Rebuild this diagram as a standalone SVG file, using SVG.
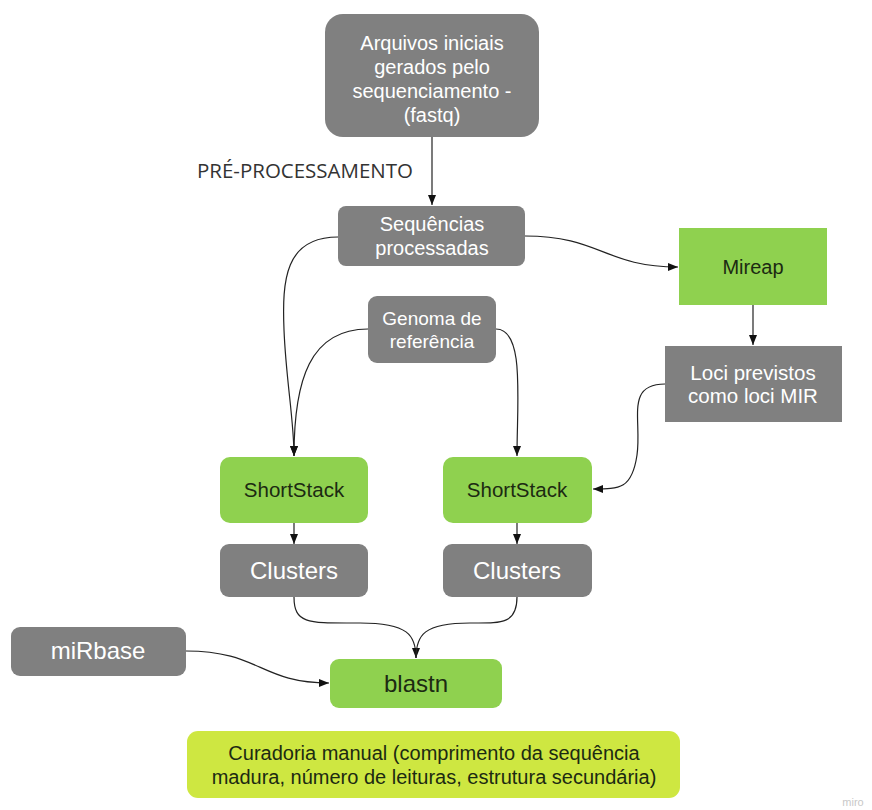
<svg xmlns="http://www.w3.org/2000/svg" width="872" height="810" viewBox="0 0 872 810">
<style>
.g{fill:#808080}
.gr{fill:#8fd14f}
.y{fill:#cee741}
.tw{font-family:"Liberation Sans",Arial,sans-serif;fill:#ffffff;text-anchor:middle}
.td{font-family:"Liberation Sans",Arial,sans-serif;fill:#1c2a12;text-anchor:middle}
.c{fill:none;stroke:#222;stroke-width:1.2}
</style>
<defs>
<marker id="ah" viewBox="0 0 10 8" refX="10" refY="4" markerWidth="11" markerHeight="8" markerUnits="userSpaceOnUse" orient="auto">
<path d="M0,0 L10,4 L0,8 Z" fill="#111"/>
</marker>
</defs>
<rect width="872" height="810" fill="#ffffff"/>

<g id="connectors">
<path class="c" d="M432,137 L432,205" marker-end="url(#ah)"/>
<path class="c" d="M525,236 C600,236 605,267 678,267" marker-end="url(#ah)"/>
<path class="c" d="M753,305 L753,345" marker-end="url(#ah)"/>
<path class="c" d="M338,237 C285,237 282,280 284,330 C286,380 294,420 294,456" marker-end="url(#ah)"/>
<path class="c" d="M368,329 C310,329 294,380 294,456" marker-end="url(#ah)"/>
<path class="c" d="M496,329 C525,329 517,400 517,456" marker-end="url(#ah)"/>
<path class="c" d="M665,384 C625,384 642,420 637,455 C632,489 620,489 593,489" marker-end="url(#ah)"/>
<path class="c" d="M294,523 L294,544" marker-end="url(#ah)"/>
<path class="c" d="M517,523 L517,544" marker-end="url(#ah)"/>
<path class="c" d="M294,597 C294,625 310,623 360,623 C408,623 416,635 416,658" marker-end="url(#ah)"/>
<path class="c" d="M517,597 C517,625 500,623 470,623 C424,623 416,635 416,658"/>
<path class="c" d="M186,651 C260,651 260,683 329,683" marker-end="url(#ah)"/>
</g>

<g id="label-pre">
<text x="197" y="178" font-family="'Open Sans','Liberation Sans',sans-serif" font-size="20" fill="#333" textLength="216" lengthAdjust="spacingAndGlyphs">PRÉ-PROCESSAMENTO</text>
</g>

<g id="arquivos">
<rect class="g" x="325" y="14" width="214" height="123" rx="18"/>
<text class="tw" font-size="20" x="432"><tspan x="432" y="50">Arquivos iniciais</tspan><tspan x="432" y="74">gerados pelo</tspan><tspan x="432" y="98">sequenciamento -</tspan><tspan x="432" y="122">(fastq)</tspan></text>
</g>

<g id="sequencias">
<rect class="g" x="338" y="206" width="187" height="60" rx="8"/>
<text class="tw" font-size="20"><tspan x="432" y="231">Sequências</tspan><tspan x="432" y="255">processadas</tspan></text>
</g>

<g id="mireap">
<rect class="gr" x="679" y="228" width="148" height="77"/>
<text class="td" font-size="20" x="753" y="274">Mireap</text>
</g>

<g id="loci">
<rect class="g" x="665" y="346" width="177" height="76"/>
<text class="tw" font-size="20.5"><tspan x="753" y="380">Loci previstos</tspan><tspan x="753" y="403">como loci MIR</tspan></text>
</g>

<g id="genoma">
<rect class="g" x="368" y="296" width="128" height="67" rx="9"/>
<text class="tw" font-size="19"><tspan x="432" y="325">Genoma de</tspan><tspan x="432" y="348">referência</tspan></text>
</g>

<g id="shortstack1">
<rect class="gr" x="220" y="457" width="148" height="66" rx="10"/>
<text class="td" font-size="20.5" x="294" y="497">ShortStack</text>
</g>

<g id="shortstack2">
<rect class="gr" x="443" y="457" width="149" height="66" rx="10"/>
<text class="td" font-size="20.5" x="517" y="497">ShortStack</text>
</g>

<g id="clusters1">
<rect class="g" x="220" y="544" width="148" height="53" rx="9"/>
<text class="tw" font-size="24" x="294" y="579">Clusters</text>
</g>

<g id="clusters2">
<rect class="g" x="443" y="544" width="149" height="53" rx="9"/>
<text class="tw" font-size="24" x="517" y="579">Clusters</text>
</g>

<g id="mirbase">
<rect class="g" x="11" y="627" width="175" height="49" rx="9"/>
<text class="tw" font-size="24" x="98" y="659">miRbase</text>
</g>

<g id="blastn">
<rect class="gr" x="330" y="659" width="172" height="49" rx="9"/>
<text class="td" font-size="24" x="416" y="692">blastn</text>
</g>

<g id="curadoria">
<rect class="y" x="187" y="731" width="493" height="67" rx="11"/>
<text class="td" font-size="20"><tspan x="434" y="760">Curadoria manual (comprimento da sequência</tspan><tspan x="434" y="784">madura, número de leituras, estrutura secundária)</tspan></text>
</g>

<g id="miro">
<text x="853" y="806" font-family="'Liberation Sans',sans-serif" font-size="11" fill="#c8c8c8" text-anchor="middle">miro</text>
</g>
</svg>
